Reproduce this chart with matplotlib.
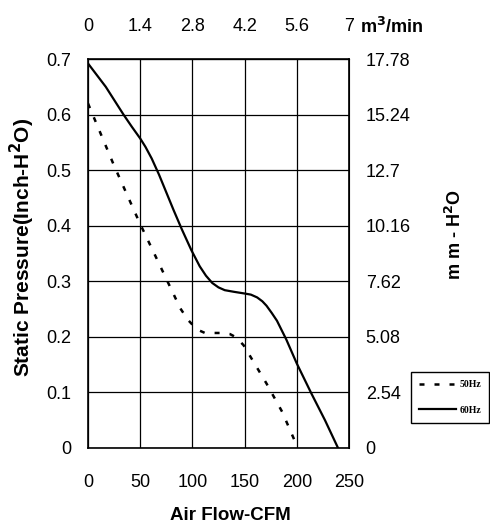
import matplotlib
matplotlib.use('Agg')
import matplotlib.pyplot as plt

plt.rcParams['font.family'] = ['Liberation Sans', 'DejaVu Sans']

# 60Hz curve (CFM, inch-H2O)
cfm_60 = [0, 17, 34, 42, 50, 55, 61, 68, 75, 82, 90, 99, 107, 113, 119, 125, 131, 140, 150, 156, 162, 167, 171, 176, 181, 190, 200, 214, 227, 239.5]
p_60 = [0.692, 0.650, 0.600, 0.578, 0.557, 0.542, 0.521, 0.492, 0.460, 0.428, 0.393, 0.356, 0.327, 0.310, 0.297, 0.289, 0.284, 0.281, 0.278, 0.276, 0.271, 0.264, 0.256, 0.243, 0.229, 0.195, 0.152, 0.098, 0.050, 0.0]

# 50Hz curve
cfm_50 = [0, 25, 49, 88.5, 96, 101, 106, 112, 128, 136, 141, 145, 149, 171, 186, 201]
p_50 = [0.620, 0.508, 0.407, 0.251, 0.230, 0.220, 0.212, 0.207, 0.207, 0.205, 0.200, 0.193, 0.185, 0.116, 0.065, 0.0]

x_ticks = [0, 50, 100, 150, 200, 250]
y_ticks = [0, 0.1, 0.2, 0.3, 0.4, 0.5, 0.6, 0.7]
y_labels = ['0', '0.1', '0.2', '0.3', '0.4', '0.5', '0.6', '0.7']
top_ticks = [0, 1.4, 2.8, 4.2, 5.6, 7]
top_labels = ['0', '1.4', '2.8', '4.2', '5.6', '7']
right_ticks = [0, 2.54, 5.08, 7.62, 10.16, 12.7, 15.24, 17.78]
right_labels = ['0', '2.54', '5.08', '7.62', '10.16', '12.7', '15.24', '17.78']

fig = plt.figure(figsize=(4.9, 5.3), dpi=100)
ax = fig.add_axes([88/490, 82/530, 261/490, 389/530])

l50, = ax.plot(cfm_50, p_50, color='black', lw=1.8, linestyle=(0, (2.0, 4.0)), label='50Hz')
l60, = ax.plot(cfm_60, p_60, color='black', lw=1.6, label='60Hz')

ax.set_xlim(0, 250)
ax.set_ylim(0, 0.7)
ax.set_xticks(x_ticks)
ax.set_yticks(y_ticks)
ax.set_yticklabels(y_labels)
ax.grid(True, color='black', lw=0.9)
ax.tick_params(length=0, labelsize=13)
ax.tick_params(axis='x', pad=19)
ax.tick_params(axis='y', pad=12)
for s in ax.spines.values():
    s.set_linewidth(1.2)

top = ax.secondary_xaxis('top', functions=(lambda x: x * 7 / 250, lambda x: x * 250 / 7))
top.set_xticks(top_ticks)
top.set_xticklabels(top_labels)
top.tick_params(length=0, labelsize=13, pad=17)

right = ax.secondary_yaxis('right', functions=(lambda y: y * 25.4, lambda y: y / 25.4))
right.set_yticks(right_ticks)
right.set_yticklabels(right_labels)
right.tick_params(length=0, labelsize=13, pad=12)

fig.text(230/490, 1 - 515/530, 'Air Flow-CFM', fontsize=13.5, fontweight='bold', ha='center', va='center')
fig.text(22/490, 1 - 247/530, 'Static Pressure(Inch-H$^\\mathbf{2}$O)', rotation=90, fontsize=15,
         fontweight='bold', ha='center', va='center')
fig.text(455/490, 1 - 235/530, 'm m - H$^\\mathbf{2}$O', rotation=90, fontsize=13, fontweight='bold',
         ha='center', va='center')
fig.text(360/490, 1 - 27/530, 'm$^\\mathbf{3}$/min', fontsize=13, fontweight='bold', ha='left', va='center')

leg = fig.legend(handles=[l50, l60], loc='upper left', bbox_to_anchor=(411/490, 1 - 372/530),
                 prop={'family': 'Liberation Serif', 'size': 7, 'weight': 'bold'},
                 handlelength=3.8, handletextpad=0.3, borderpad=0.85, labelspacing=1.7,
                 fancybox=False, edgecolor='black', framealpha=1, borderaxespad=0)
leg.get_frame().set_linewidth(1.0)

fig.savefig('out.png', dpi=100)
